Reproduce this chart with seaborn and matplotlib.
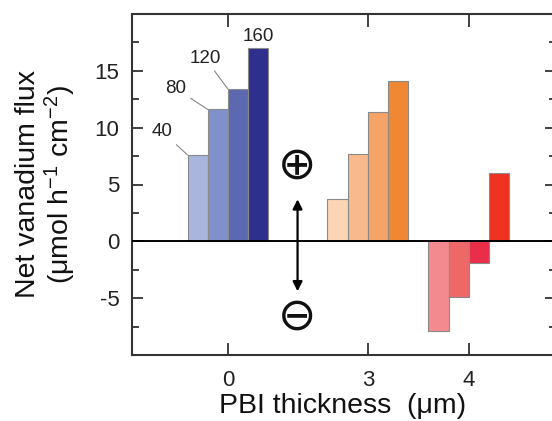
import numpy as np
import pandas as pd
import matplotlib
import matplotlib.pyplot as plt
from matplotlib.ticker import MultipleLocator
import seaborn as sns

# data
thickness = ["0", "3", "4"]
loads = [40, 80, 120, 160]
flux_0 = [7.6, 11.6, 13.4, 17.0]
flux_3 = [3.7, 7.7, 11.4, 14.1]
flux_4 = [-7.9, -4.9, -1.9, 6.0]

blues = ["#a9b5dc", "#8090cb", "#5c69b0", "#2f2f8e"]
oranges = ["#fbd5b5", "#f8ba8c", "#f5a466", "#f08833"]
reds = ["#f28a90", "#ef6868", "#ea2e4a", "#ee3323"]

# layout: where each thickness group sits on the x axis
group_pos = [0.0, 1.386, 2.386]

rows = []
for pos, vals in zip(group_pos, [flux_0, flux_3, flux_4]):
    for ld, v in zip(loads, vals):
        rows.append({"pos": pos, "load": ld, "flux": v})
df = pd.DataFrame(rows)

sns.set_style("ticks")
plt.rcParams["font.family"] = ["Liberation Sans", "DejaVu Sans"]
plt.rcParams["mathtext.fontset"] = "custom"
plt.rcParams["mathtext.rm"] = "Liberation Sans"
plt.rcParams["mathtext.it"] = "Liberation Sans"
plt.rcParams["axes.unicode_minus"] = False

fig = plt.figure(figsize=(5.52, 4.21), dpi=100)
ax = fig.add_axes([132 / 552, 66 / 421, 424 / 552, 341 / 421])

sns.barplot(data=df, x="pos", y="flux", hue="load", hue_order=loads,
            native_scale=True, width=0.8, errorbar=None, legend=False,
            edgecolor="#8a8a8a", linewidth=0.8, ax=ax)

colours = [blues, oranges, reds]
for i, cont in enumerate(ax.containers):
    for bar in cont:
        cx = bar.get_x() + bar.get_width() / 2
        g = int(np.argmin([abs(cx - p) for p in group_pos]))
        bar.set_facecolor(colours[g][i])
        bar.set_alpha(1)

ax.axhline(0, color="black", lw=1.4, zorder=3)

ax.set_xlim(-0.95, 3.25)
ax.set_ylim(-10, 20)
ax.set_xticks(group_pos)
ax.set_xticklabels(thickness)
ax.set_yticks([-5, 0, 5, 10, 15])
ax.yaxis.set_minor_locator(MultipleLocator(2.5))
ax.tick_params(axis="both", which="both", direction="in", top=True,
               right=True, color="#333333", labelsize=16, labelcolor="#222222")
ax.tick_params(axis="y", which="major", length=8, width=1.3, pad=9)
ax.tick_params(axis="y", which="minor", length=5, width=1.3)
ax.tick_params(axis="x", which="major", length=9, width=1.3, pad=11)
for s in ax.spines.values():
    s.set_color("#333333")
    s.set_linewidth(1.5)

ax.set_xlabel("PBI thickness  (μm)", fontsize=20.5, color="#111111")
ax.xaxis.set_label_coords(0.497, -0.11)
ax.set_ylabel("Net vanadium flux\n(μmol h$^{-1}$ cm$^{-2}$)", fontsize=20.5,
              color="#111111", linespacing=1.05, labelpad=12)

# load labels on the first group
offsets = [(-25, 23), (-32, 21), (-23, 31)]
for i, ld in enumerate(loads):
    bars = sorted(ax.containers[i].patches, key=lambda b: b.get_x())
    b = bars[0]
    if i < 3:
        ax.annotate(str(ld), xy=(b.get_x(), b.get_height()),
                    xytext=offsets[i], textcoords="offset pixels",
                    ha="center", va="center", fontsize=13.5, color="#222222",
                    arrowprops=dict(arrowstyle="-", color="#888888", lw=0.8,
                                    shrinkA=1, shrinkB=0))
    else:
        ax.annotate(str(ld), xy=(b.get_x() + b.get_width() / 2, b.get_height()),
                    xytext=(0, 12), textcoords="offset pixels",
                    ha="center", va="center", fontsize=13.5, color="#222222")

# sign markers and double arrow
ax.annotate("", xy=(0.69, 3.7), xytext=(0.69, -4.4),
            arrowprops=dict(arrowstyle="<|-|>", color="black", lw=1.6,
                            mutation_scale=14, shrinkA=0, shrinkB=0))
ax.text(0.69, 6.6, "⊕", fontsize=33, ha="center", va="center",
        family="DejaVu Sans", color="#111111")
ax.text(0.69, -6.7, "⊖", fontsize=33, ha="center", va="center",
        family="DejaVu Sans", color="#111111")

fig.savefig("out.png", dpi=100)
